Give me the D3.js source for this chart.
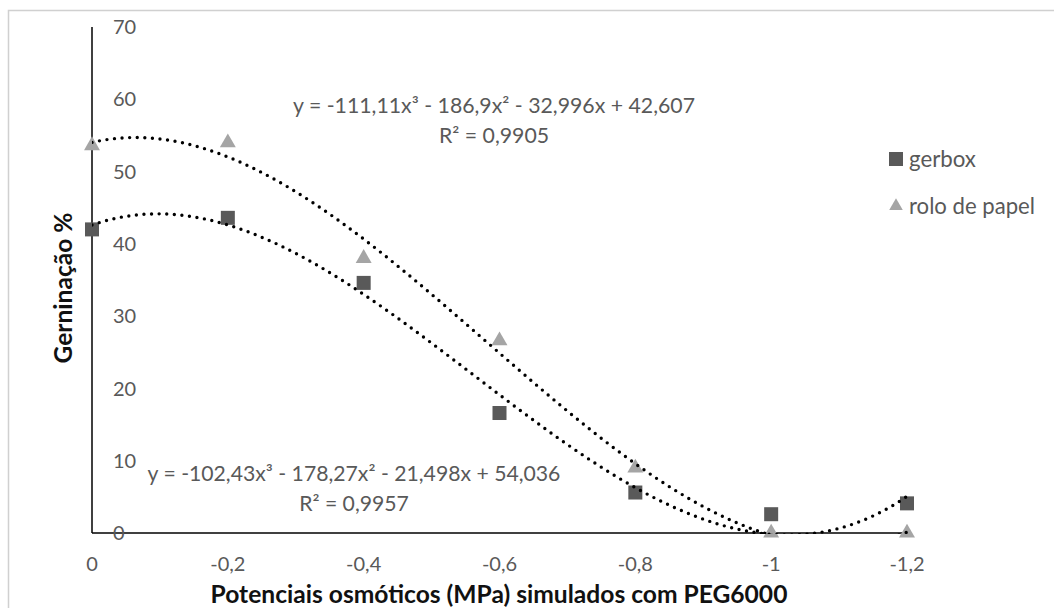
<!DOCTYPE html>
<html>
<head>
<meta charset="utf-8">
<script src="https://cdn.jsdelivr.net/npm/d3@7"></script>
<style>
  html, body { margin: 0; padding: 0; background: #fff; }
  svg { display: block; font-family: Lato, "Open Sans", sans-serif; }
</style>
</head>
<body>
<svg id="chart" width="1054" height="608"></svg>
<script>
// Osmotic potential levels (MPa) simulated with PEG6000
const potentials = [0, -0.2, -0.4, -0.6, -0.8, -1, -1.2];
const xTickLabels = ["0", "-0,2", "-0,4", "-0,6", "-0,8", "-1", "-1,2"];
const yTicks = [0, 10, 20, 30, 40, 50, 60, 70];

// Germination (%) per substrate
const gerbox = [42, 43.6, 34.6, 16.6, 5.6, 2.6, 4.1];
const roloPapel = [53.6, 54, 38, 26.6, 9, 0, 0];

// Cubic trendline coefficients [x^3, x^2, x, 1]
const gerboxFit = [-111.11, -186.9, -32.996, 42.607];
const roloFit = [-102.43, -178.27, -21.498, 54.036];

const eqTop = ["y = -111,11x³ - 186,9x² - 32,996x + 42,607", "R² = 0,9905"];
const eqBottom = ["y = -102,43x³ - 178,27x² - 21,498x + 54,036", "R² = 0,9957"];

const svg = d3.select("#chart");

// outer chart frame
svg.append("path")
  .attr("d", "M8.5,620 L8.5,10.5 L1060,10.5")
  .attr("fill", "none")
  .attr("stroke", "#d0d0d0")
  .attr("stroke-width", 1.5);

const x = d3.scaleLinear().domain([0, -1.2]).range([92, 907]);
const y = d3.scaleLinear().domain([0, 70]).range([533, 27]);

const grey = "#595959";

// helper: shrink/grow a text's font size so it spans a given width
function fitWidth(sel, target) {
  sel.each(function () {
    const fs = parseFloat(this.getAttribute("font-size"));
    const w = this.getComputedTextLength();
    this.setAttribute("font-size", (fs * target / w).toFixed(2));
  });
}

// axes
svg.append("line")
  .attr("x1", x(0)).attr("x2", x(0))
  .attr("y1", y(70)).attr("y2", y(0))
  .attr("stroke", "#000").attr("stroke-width", 1.5);
svg.append("line")
  .attr("x1", x(0)).attr("x2", x(-1.2))
  .attr("y1", y(0)).attr("y2", y(0))
  .attr("stroke", "#000").attr("stroke-width", 1.5);

// y tick labels sit to the right of the axis line
svg.append("g").selectAll("text")
  .data(yTicks)
  .join("text")
  .attr("x", 113)
  .attr("y", d => y(d))
  .attr("dy", "0.36em")
  .attr("font-size", 20)
  .attr("fill", grey)
  .text(d => d);

// x tick labels
svg.append("g").selectAll("text")
  .data(potentials)
  .join("text")
  .attr("x", d => x(d))
  .attr("y", 564)
  .attr("dy", "0.36em")
  .attr("text-anchor", "middle")
  .attr("font-size", 20)
  .attr("fill", grey)
  .text((d, i) => xTickLabels[i]);

// axis titles
const xTitle = svg.append("text")
  .attr("x", 499).attr("y", 594).attr("dy", "0.36em")
  .attr("text-anchor", "middle")
  .attr("font-size", 20).attr("font-weight", "bold").attr("fill", "#111")
  .text("Potenciais osmóticos (MPa) simulados com PEG6000");
fitWidth(xTitle, 577);

const yTitle = svg.append("text")
  .attr("transform", "translate(63,288) rotate(-90)")
  .attr("dy", "0.36em")
  .attr("text-anchor", "middle")
  .attr("font-size", 20).attr("font-weight", "bold").attr("fill", "#111")
  .text("Gerninação %");
fitWidth(yTitle, 151);

// markers
const sq = 14;
svg.append("g").selectAll("rect")
  .data(gerbox)
  .join("rect")
  .attr("x", (d, i) => x(potentials[i]) - sq / 2)
  .attr("y", d => y(d) - sq / 2)
  .attr("width", sq).attr("height", sq)
  .attr("fill", grey);

const tri = d3.symbol().type(d3.symbolTriangle).size(110);
svg.append("g").selectAll("path")
  .data(roloPapel)
  .join("path")
  .attr("transform", (d, i) => `translate(${x(potentials[i])},${y(d)})`)
  .attr("d", tri)
  .attr("fill", "#a5a5a5");

// trendlines, clipped to the plot area
svg.append("defs").append("clipPath").attr("id", "plot")
  .append("rect")
  .attr("x", x(0)).attr("y", 0)
  .attr("width", x(-1.2) - x(0) + 4).attr("height", y(0) + 1);

const poly = c => v => ((c[0] * v + c[1]) * v + c[2]) * v + c[3];
const xs = d3.range(0, 241).map(i => -i * 0.005);
const line = d3.line().x(d => x(d[0])).y(d => y(d[1])).curve(d3.curveLinear);

[gerboxFit, roloFit].forEach(c => {
  const f = poly(c);
  svg.append("path")
    .attr("clip-path", "url(#plot)")
    .attr("d", line(xs.map(v => [v, f(v)])))
    .attr("fill", "none")
    .attr("stroke", "#000")
    .attr("stroke-width", 3.4)
    .attr("stroke-linecap", "round")
    .attr("stroke-dasharray", "0 7.6");
});

// trendline equations
function equation(lines, cx, y0, w) {
  const g = svg.append("g");
  const t1 = g.append("text")
    .attr("x", cx).attr("y", y0).attr("dy", "0.36em")
    .attr("text-anchor", "middle").attr("font-size", 20).attr("fill", grey)
    .text(lines[0]);
  fitWidth(t1, w);
  const fs = t1.attr("font-size");
  g.append("text")
    .attr("x", cx).attr("y", y0 + 30).attr("dy", "0.36em")
    .attr("text-anchor", "middle").attr("font-size", fs).attr("fill", grey)
    .text(lines[1]);
}
equation(eqTop, 494, 105, 402);
equation(eqBottom, 354, 473, 413);

// legend
const leg = svg.append("g");
leg.append("rect")
  .attr("x", 889).attr("y", 152).attr("width", sq).attr("height", sq)
  .attr("fill", grey);
const legG = leg.append("text")
  .attr("x", 909).attr("y", 159).attr("dy", "0.36em")
  .attr("font-size", 20).attr("fill", grey).text("gerbox");
fitWidth(legG, 67);
leg.append("path")
  .attr("transform", "translate(896,206)")
  .attr("d", d3.symbol().type(d3.symbolTriangle).size(80))
  .attr("fill", "#a5a5a5");
const legT = leg.append("text")
  .attr("x", 909).attr("y", 206).attr("dy", "0.36em")
  .attr("font-size", 20).attr("fill", grey).text("rolo de papel");
fitWidth(legT, 126);
</script>
</body>
</html>
